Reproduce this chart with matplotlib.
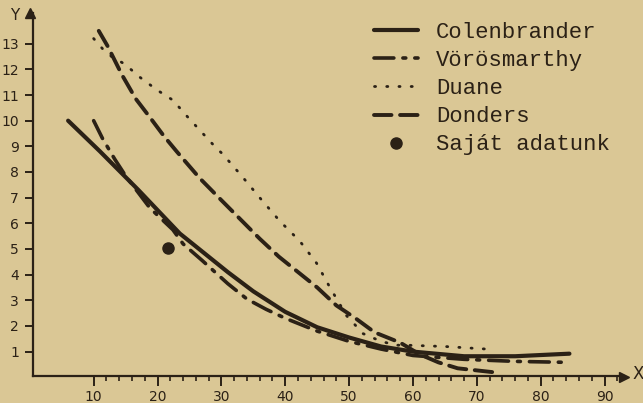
import matplotlib
matplotlib.use("Agg")
import matplotlib.pyplot as plt
from matplotlib.ticker import FixedLocator

# curves
colen_x = [6, 11, 17, 23.5, 27, 31, 35, 40, 45, 50, 55, 60, 68, 76, 84.5]
colen_y = [10, 8.8, 7.3, 5.6, 4.9, 4.1, 3.35, 2.55, 1.95, 1.55, 1.2, 1.0, 0.82, 0.82, 0.92]

voros_x = [10, 11.4, 13.3, 15, 18.8, 22.4, 24, 27, 31, 34, 37, 40, 45, 50, 55, 60, 68, 76, 84.5]
voros_y = [10, 9.3, 8.5, 7.85, 6.6, 5.75, 5.2, 4.55, 3.65, 3.05, 2.65, 2.3, 1.8, 1.4, 1.1,
           0.85, 0.7, 0.62, 0.58]

duane_x = [10, 11.4, 12.8, 14.9, 17.2, 19.9, 22.4, 24.7, 27.1, 29.1, 30.2, 33.2, 36, 39.1,
           42.3, 44.9, 47, 49.6, 52.2, 55, 57.4, 59, 65, 71.5]
duane_y = [13.2, 12.8, 12.5, 12.2, 11.7, 11.2, 10.8, 10.15, 9.5, 8.96, 8.7, 7.84, 7.0, 6.1,
           5.3, 4.45, 3.5, 2.4, 1.7, 1.4, 1.25, 1.25, 1.2, 1.1]

donders_x = [10.8, 12.2, 14.4, 16.6, 18.9, 21, 23, 26.6, 30, 33, 36, 39, 42, 45, 48, 51, 54,
             58, 61, 64, 67, 72.5]
donders_y = [13.5, 12.9, 11.8, 10.85, 10.1, 9.4, 8.8, 7.76, 6.9, 6.15, 5.4, 4.7, 4.1, 3.5,
             2.8, 2.3, 1.75, 1.35, 0.9, 0.58, 0.35, 0.2]

own_x = [21.7]
own_y = [5.05]

x_ticks = [10, 20, 30, 40, 50, 60, 70, 80, 90]
y_ticks = list(range(1, 14))

paper = '#dac795'
ink = '#2b2116'

fig = plt.figure(figsize=(6.43, 4.03), dpi=100, facecolor=paper)
ax = fig.add_axes([0.0513, 0.067, 0.9187, 0.901])
ax.set_facecolor(paper)

ax.plot(colen_x, colen_y, color=ink, lw=3.0, solid_capstyle='round', label='Colenbrander')
ax.plot(voros_x, voros_y, color=ink, lw=2.6, linestyle=(0, (5.5, 2.5, 0.8, 2.5)),
        dash_capstyle='round', label='Vörösmarthy')
ax.plot(duane_x, duane_y, color=ink, lw=2.0, linestyle=(0, (0.4, 4.0)),
        dash_capstyle='round', label='Duane')
ax.plot(donders_x, donders_y, color=ink, lw=2.8, linestyle=(0, (4.5, 2.2)),
        dash_capstyle='round', label='Donders')
ax.plot(own_x, own_y, 'o', color=ink, ms=8, label='Saját adatunk')

ax.set_xlim(0.5, 93)
ax.set_ylim(0.05, 14.2)

for side in ['top', 'right']:
    ax.spines[side].set_visible(False)
for side in ['left', 'bottom']:
    ax.spines[side].set_color(ink)
    ax.spines[side].set_linewidth(1.6)

# axis arrows
ax.plot(1, 0, '>', color=ink, ms=7, transform=ax.get_yaxis_transform(), clip_on=False)
ax.plot(0, 1, '^', color=ink, ms=7, transform=ax.get_xaxis_transform(), clip_on=False)

ax.xaxis.set_major_locator(FixedLocator(x_ticks))
ax.xaxis.set_minor_locator(FixedLocator([v for v in range(12, 93, 2) if v % 10]))
ax.yaxis.set_major_locator(FixedLocator(y_ticks))
ax.tick_params(axis='x', which='major', length=7, width=1.4, color=ink, labelcolor=ink,
               labelsize=10, pad=3)
ax.tick_params(axis='x', which='minor', length=3.5, width=1.2, color=ink)
ax.tick_params(axis='y', which='major', length=6, width=1.4, color=ink, labelcolor=ink,
               labelsize=10, pad=4)

fig.text(15 / 643, 1 - 15 / 403, 'Y', color=ink, fontsize=11, ha='center', va='center')
fig.text(638 / 643, 1 - 374 / 403, 'X', color=ink, fontsize=12, ha='center', va='center')

leg = ax.legend(loc='upper left', bbox_to_anchor=(374 / 643, 1 - 22 / 403),
                bbox_transform=fig.transFigure, frameon=False, borderpad=0,
                borderaxespad=0, handlelength=2.0, handletextpad=0.8, labelspacing=0.32,
                prop={'family': 'Liberation Mono', 'size': 16})
for t in leg.get_texts():
    t.set_color(ink)

fig.savefig('out.png', dpi=100, facecolor=paper)
